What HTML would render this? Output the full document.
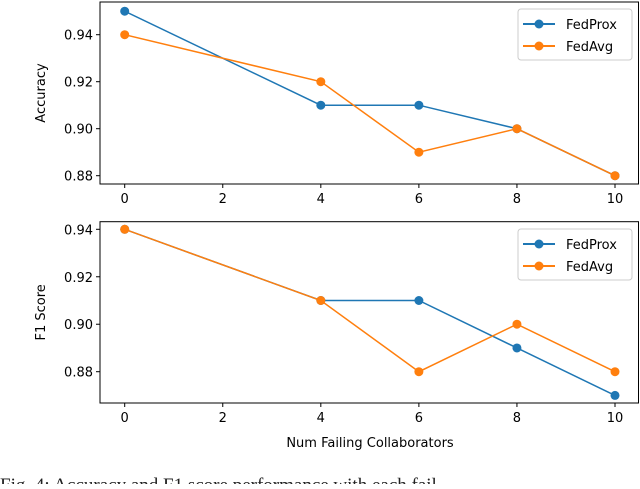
<!DOCTYPE html>
<html><head><meta charset="utf-8"><style>
body{margin:0;background:#fff;width:640px;height:484px;overflow:hidden}
svg{font-family:"DejaVu Sans","Liberation Sans",sans-serif}
</style></head><body>
<svg id="c" width="640" height="484"></svg>
<script>
const xs=[0,4,6,8,10];
const accProx=[0.95,0.91,0.91,0.90,0.88];
const accAvg=[0.94,0.92,0.89,0.90,0.88];
const f1Prox=[0.94,0.91,0.91,0.89,0.87];
const f1Avg=[0.94,0.91,0.88,0.90,0.88];
const xTicks=[0,2,4,6,8,10];
const yTicks=[0.88,0.90,0.92,0.94];
const svg=document.getElementById('c');const NS='http://www.w3.org/2000/svg';
function mk(t,a,p){const e=document.createElementNS(NS,t);for(const k in a)e.setAttribute(k,a[k]);(p||svg).appendChild(e);return e;}
const X=v=>124.7+(v-0)*(615-124.7)/10;
function panel(name,top,bot,y94,y88,ylabel,prox,avg,legTop,xlab){
 const Y=v=>y88+(v-0.88)*(y94-y88)/0.06;
 const g=mk('g',{});
 const ax=mk('rect',{x:100,y:top,width:538.5,height:bot-top,fill:'none',stroke:'#000','stroke-width':1},g);
 
 xTicks.forEach(t=>{mk('line',{x1:X(t),x2:X(t),y1:bot,y2:bot+4,stroke:'#000'},g);
  const tx=mk('text',{x:X(t),y:bot+19,'font-size':13,'text-anchor':'middle'},g);tx.textContent=t;
  });
 yTicks.forEach(t=>{mk('line',{x1:96,x2:100,y1:Y(t),y2:Y(t),stroke:'#000'},g);
  const tx=mk('text',{x:93,y:Y(t)+5,'font-size':13,'text-anchor':'end'},g);tx.textContent=t.toFixed(2);
  });
 const yl=mk('text',{x:45,y:(top+bot)/2,'font-size':13,'text-anchor':'middle',transform:`rotate(-90 45 ${(top+bot)/2})`},g);
 yl.textContent=ylabel;
 [[prox,'#1f77b4','fedprox'],[avg,'#ff7f0e','fedavg']].forEach(([d,c,n])=>{
  const pl=mk('polyline',{points:d.map((v,i)=>X(xs[i])+','+Y(v)).join(' '),fill:'none',stroke:c,'stroke-width':1.5},g);
  
  d.forEach((v,i)=>{const p=mk('circle',{cx:X(xs[i]),cy:Y(v),r:4.5,fill:c},g);
   });
 });
 const lg=mk('g',{},g);
 mk('rect',{x:518,y:legTop,width:114,height:51,rx:3,fill:'#fff',stroke:'#ccc'},lg);
 [['FedProx','#1f77b4'],['FedAvg','#ff7f0e']].forEach(([l,c],i)=>{const yy=legTop+15+i*22;
  mk('line',{x1:523,x2:555,y1:yy,y2:yy,stroke:c,'stroke-width':2},lg);
  mk('circle',{cx:539,cy:yy,r:4.5,fill:c},lg);
  const t=mk('text',{x:566,y:yy+5,'font-size':13},lg);t.textContent=l;
  });
 if(xlab){const t=mk('text',{x:370,y:447,'font-size':13,'text-anchor':'middle'},g);t.textContent=xlab;
  }
}
panel('accuracy-panel',2,184,34.7,175.7,'Accuracy',accProx,accAvg,9,null);
panel('f1-panel',221.7,403,229.3,371.7,'F1 Score',f1Prox,f1Avg,229,'Num Failing Collaborators');
const cap=mk('text',{x:0,y:491,'font-size':19,'font-family':'Liberation Serif, serif',fill:'#222'});
cap.textContent='Fig. 4: Accuracy and F1 score performance with each fail';

</script>
</body></html>
